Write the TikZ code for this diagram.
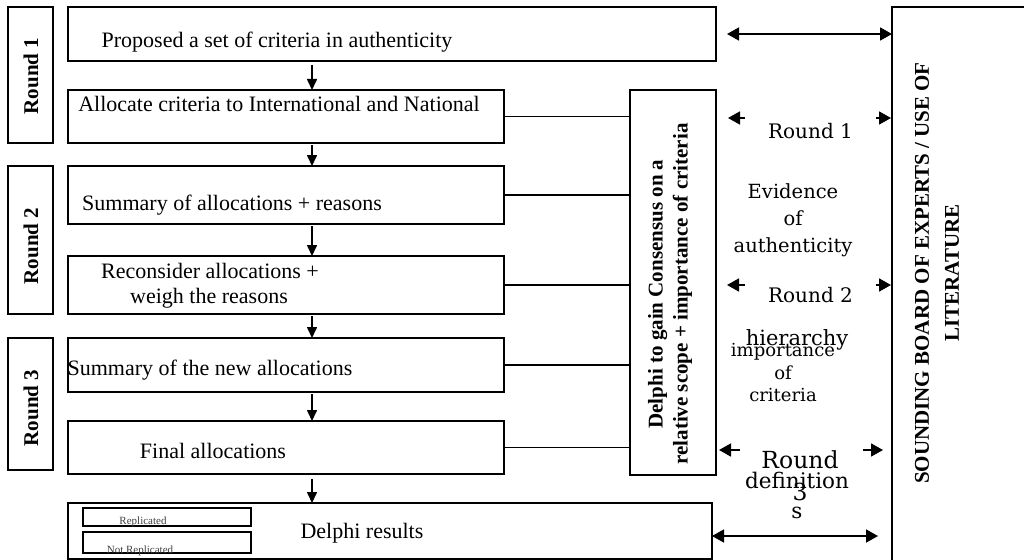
\documentclass[tikz,border=0pt]{standalone}
\usepackage{fontspec}
\setmainfont{Liberation Serif}
\newfontfamily\dejavu{DejaVu Serif}
\usetikzlibrary{arrows.meta}
\begin{document}
\begin{tikzpicture}[x=1pt,y=-1pt,
  bx/.style={draw,line width=1.6pt,anchor=north west,inner sep=0pt,outer sep=0pt},
  mtxt/.style={anchor=base,inner sep=0pt,font=\fontsize{22}{25}\selectfont},
  rot/.style={rotate=90,inner sep=0pt,align=center,font=\bfseries\fontsize{21}{25}\selectfont},
  mid/.style={inner sep=0pt,align=center},
  down/.style={line width=1.6pt,-{Triangle[length=11pt,width=10pt]}},
  dbl/.style={line width=1.8pt,{Triangle[length=12pt,width=13pt]}-{Triangle[length=12pt,width=13pt]}},
  cover/.style={fill=white,inner sep=0pt},
  small/.style={inner sep=0pt,anchor=base,text=black!75,font=\fontsize{11}{12}\selectfont}]
\useasboundingbox (0,0) rectangle (1024,559);
\clip (0,0) rectangle (1024,559);
% side round boxes
\node[bx,minimum width=45,minimum height=136] (r1) at (8,7) {};
\node[bx,minimum width=45,minimum height=148] (r2) at (8,166) {};
\node[bx,minimum width=45,minimum height=132] (r3) at (8,338) {};
\node[rot] (r1t) at (31,76) {Round 1};
\node[rot] (r2t) at (31,246) {Round 2};
\node[rot] (r3t) at (31,408) {Round 3};
% main boxes
\node[bx,minimum width=648,minimum height=54] (b1) at (68,7) {};
\node[bx,minimum width=436,minimum height=53] (b2) at (68,90) {};
\node[bx,minimum width=436,minimum height=58] (b3) at (68,166) {};
\node[bx,minimum width=436,minimum height=58] (b4) at (68,256) {};
\node[bx,minimum width=436,minimum height=54] (b5) at (68,338) {};
\node[bx,minimum width=436,minimum height=53] (b6) at (68,421) {};
\node[bx,minimum width=644,minimum height=56] (b7) at (68,503) {};
\node[bx,line width=1.3pt,minimum width=168,minimum height=18] (rep1) at (83,508) {};
\node[bx,line width=1.3pt,minimum width=168,minimum height=21] (rep2) at (83,532) {};
% consensus and board
\node[bx,minimum width=86,minimum height=385] (cons) at (630,90) {};
\node[bx,minimum width=150,minimum height=570] (board) at (892,7) {};
% texts in boxes
\node[mtxt] (t1) at (277,48) {Proposed a set of criteria in authenticity};
\node[mtxt] (t2) at (279,112) {Allocate criteria to International and National};
\node[mtxt] (t3) at (232,210) {Summary of allocations + reasons};
\node[mtxt] (t4a) at (210,278) {Reconsider allocations +};
\node[mtxt] (t4b) at (209,303) {weigh the reasons};
\node[mtxt] (t5) at (210,375) {Summary of the new allocations};
\node[mtxt] (t6) at (213,458) {Final allocations};
\node[mtxt] (t7) at (362,538) {Delphi results};
\node[small] (s1) at (143,524) {Replicated};
\node[small] (s2) at (140,553) {Not Replicated};
\node[rot] (ct) at (670,294) {Delphi to gain Consensus on a\\relative scope + importance of criteria};
\node[rot,font=\bfseries\fontsize{21}{30}\selectfont] (bt) at (937,273) {SOUNDING BOARD OF EXPERTS / USE OF\\LITERATURE};
% vertical arrows
\coordinate (xa) at (312,0);
\draw[down] ([yshift=-4pt]b1.south -| xa) -- (b2.north -| xa);
\draw[down] ([yshift=-2pt]b2.south -| xa) -- (b3.north -| xa);
\draw[down] ([yshift=-2pt]b3.south -| xa) -- (b4.north -| xa);
\draw[down] ([yshift=-2pt]b4.south -| xa) -- (b5.north -| xa);
\draw[down] ([yshift=-2pt]b5.south -| xa) -- (b6.north -| xa);
\draw[down] ([yshift=-5pt]b6.south -| xa) -- (b7.north -| xa);
% connectors to consensus box
\foreach \b in {b2,b3,b4,b5,b6}{\draw[line width=1.6pt] (\b.east) -- (\b.east -| cons.west);}
% double arrows
\draw[dbl] ([xshift=11pt]b1.east) -- (b1.east -| board.west);
\coordinate (a1l) at (728,118); \coordinate (a1r) at (891,118);
\coordinate (a2l) at (727,285); \coordinate (a2r) at (891,285);
\coordinate (a3l) at (719,450); \coordinate (a3r) at (883,450);
\coordinate (a4r) at (878,536);
\draw[dbl] (a1l) -- (a1r);
\draw[dbl] (a2l) -- (a2r);
\draw[dbl] (a3l) -- (a3r);
\draw[dbl] (b7.east |- a4r) -- (a4r);
% middle labels
\node[cover,minimum width=131,minimum height=34,font=\dejavu\fontsize{20}{24}\selectfont] (m1) at (810.5,131) {Round 1};
\node[cover,minimum width=131,minimum height=34,font=\dejavu\fontsize{20}{24}\selectfont] (m2) at (810.5,295) {Round 2};
\node[cover,minimum width=123,minimum height=12] (c3) at (801.5,450) {};
\node[mid,font=\dejavu\fontsize{19.5}{27}\selectfont] (ev) at (793,220) {Evidence\\of\\authenticity};
\node[mid,font=\dejavu\fontsize{21}{24}\selectfont] (hi) at (797,340) {hierarchy};
\node[mid,font=\dejavu\fontsize{18}{22.5}\selectfont] (im) at (783,373) {importance\\of\\criteria};
\node[mid,font=\dejavu\fontsize{23.5}{32}\selectfont] (m3) at (800,476) {Round\\3};
\node[mid,font=\dejavu\fontsize{21.5}{30}\selectfont] (m4) at (797,495) {definition\\s};
\end{tikzpicture}
\end{document}
